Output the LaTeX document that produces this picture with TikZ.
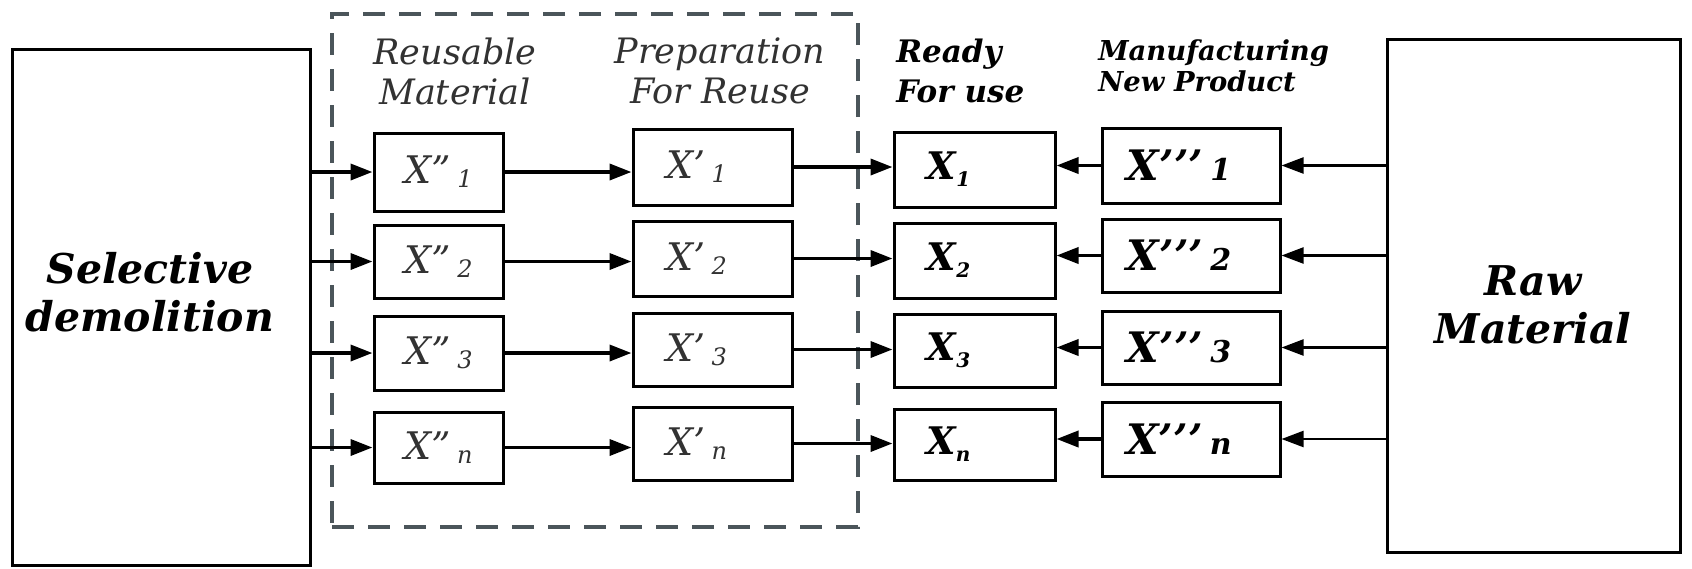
\documentclass[tikz,border=0pt]{standalone}
\usepackage{fontspec}
\setmainfont{DejaVu Serif}
\usetikzlibrary{arrows.meta}
\definecolor{dashgray}{RGB}{75,85,90}
\definecolor{txtgray}{RGB}{50,50,50}
\tikzset{
  box/.style={draw=black, line width=1.5pt, inner sep=0pt},
  colA/.style={box, minimum width=64.5pt, font=\fontsize{19}{20}\selectfont\itshape, text=txtgray},
  colB/.style={box, minimum width=79.5pt, font=\fontsize{19}{20}\selectfont\itshape, text=txtgray},
  colC/.style={box, minimum width=80.5pt, font=\fontsize{19}{20}\selectfont\bfseries\itshape},
  colD/.style={box, minimum width=89pt, font=\fontsize{21}{22}\selectfont\bfseries\itshape},
  bigbox/.style={box},
  bigtext/.style={font=\fontsize{20.5}{24}\selectfont\bfseries\itshape, align=center, inner sep=0pt},
  hdr/.style={font=\fontsize{17.5}{20}\selectfont\itshape, align=center, text=txtgray, inner sep=0pt},
  hdrR/.style={font=\fontsize{15.5}{20}\selectfont\bfseries\itshape, align=left, inner sep=0pt, anchor=west},
  hdrM/.style={font=\fontsize{13.7}{15.5}\selectfont\bfseries\itshape, align=left, inner sep=0pt, anchor=west},
  grp/.style={draw=dashgray, line width=1.8pt, dash pattern=on 11pt off 7pt, inner sep=0pt},
  arr/.style={line width=1.8pt, -{Triangle[length=11pt,width=8pt]}},
  thinarr/.style={line width=1.1pt, -{Triangle[length=11pt,width=8pt]}},
}
\newcommand{\subA}[1]{\,\raisebox{-2pt}{\fontsize{12}{12}\selectfont #1}}
\newcommand{\subC}[1]{\raisebox{-3.5pt}{\fontsize{10}{10}\selectfont #1}}
\newcommand{\subD}[1]{\,{\fontsize{15}{15}\selectfont #1}}
\newcommand{\pad}[1]{\rule{#1}{0pt}}
\begin{document}
\begin{tikzpicture}[x=0.5pt,y=-0.5pt]
\useasboundingbox (0,0) rectangle (1692,568);
% dashed group
\node[grp, minimum width=263pt, minimum height=256.5pt] (g) at (595,270.5) {};
% big boxes
\node[bigbox, minimum width=149pt, minimum height=258pt] (l) at (161,307) {};
\node[bigtext] (lt) at (150,292) {Selective\\demolition};
\node[bigbox, minimum width=146.5pt, minimum height=256.5pt] (r) at (1533.5,295.5) {};
\node[bigtext] (rt) at (1533,305) {Raw\\Material};
% headers
\node[hdr] (h1) at (455,71) {Reusable\\Material};
\node[hdr] (h2) at (720,71) {Preparation\\For Reuse};
\node[hdrR] (h3) at (896,71) {Ready\\For use};
\node[hdrM] (h4) at (1098,66) {Manufacturing\\New Product};
% column A
\node[colA, minimum height=39pt] (a1) at (438.5,172) {X”\subA{1}};
\node[colA, minimum height=36.5pt] (a2) at (438.5,261.5) {X”\subA{2}};
\node[colA, minimum height=37pt] (a3) at (438.5,353) {X”\subA{3}};
\node[colA, minimum height=35.5pt] (a4) at (438.5,447.5) {X”\subA{n}};
% column B
\node[colB, minimum height=38pt] (b1) at (712.5,167) {X’\subA{1}\pad{16pt}};
\node[colB, minimum height=37.5pt] (b2) at (712.5,258.5) {X’\subA{2}\pad{16pt}};
\node[colB, minimum height=36.5pt] (b3) at (712.5,349.5) {X’\subA{3}\pad{16pt}};
\node[colB, minimum height=36.5pt] (b4) at (712.5,443.5) {X’\subA{n}\pad{16pt}};
% column C
\node[colC, minimum height=37.5pt] (c1) at (974.5,169.5) {X\subC{1}\pad{26pt}};
\node[colC, minimum height=37.5pt] (c2) at (974.5,260.5) {X\subC{2}\pad{26pt}};
\node[colC, minimum height=36.5pt] (c3) at (974.5,350.5) {X\subC{3}\pad{26pt}};
\node[colC, minimum height=35.5pt] (c4) at (974.5,444.5) {X\subC{n}\pad{26pt}};
% column D
\node[colD, minimum height=37.5pt] (d1) at (1191,165.5) {X’’’\subD{1}\pad{12pt}};
\node[colD, minimum height=36.5pt] (d2) at (1191,255.5) {X’’’\subD{2}\pad{12pt}};
\node[colD, minimum height=36.5pt] (d3) at (1191,347.5) {X’’’\subD{3}\pad{12pt}};
\node[colD, minimum height=37pt] (d4) at (1191,439) {X’’’\subD{n}\pad{12pt}};
% connectors
\foreach \i in {1,...,4} {
  \draw[arr] (a\i.west -| l.east) -- (a\i.west);
  \draw[arr] (a\i.east) -- (a\i.east -| b\i.west);
  \draw[arr] (b\i.east) -- (b\i.east -| c\i.west);
  \draw[arr] (d\i.west) -- (d\i.west -| c\i.east);
  \draw[thinarr] (d\i.east -| r.west) -- (d\i.east);
}
\end{tikzpicture}
\end{document}
